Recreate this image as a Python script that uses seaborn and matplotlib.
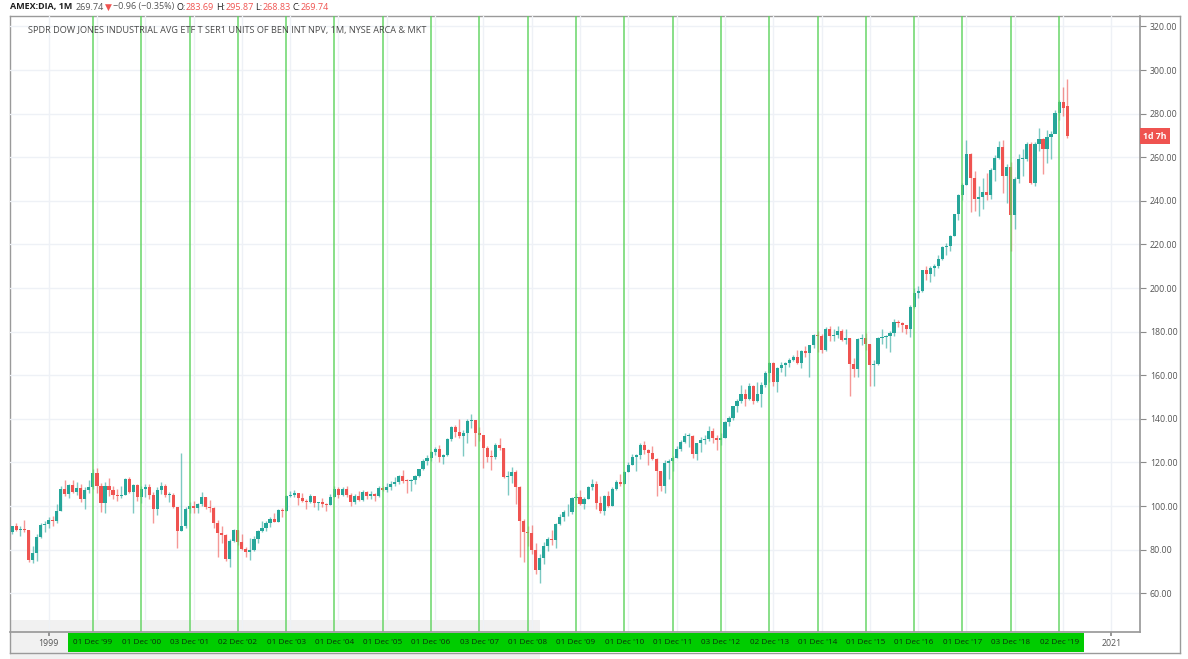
"""
DIA mensuel 1998-2020, style TradingView
"""

import matplotlib.pyplot as plt
from matplotlib.patches import Rectangle
import numpy as np
import pandas as pd
import seaborn as sns

# DONNEES (clotures, plus hauts, plus bas mensuels, jan 1998 -> fev 2020) ---------

close_98 = [79.1, 85.5, 88.0, 90.6, 89.0, 89.5, 88.8, 75.4, 78.4, 85.9, 91.2, 91.8]
close_99 = [93.6, 93.1, 97.9, 107.9, 105.6, 109.7, 106.6, 108.3, 103.4, 107.3, 108.8, 115.0]
close_00 = [109.4, 101.3, 109.2, 107.3, 105.2, 104.5, 105.2, 112.2, 106.5, 109.7, 104.2, 107.9]
close_01 = [108.9, 105.0, 98.8, 107.4, 109.1, 105.0, 105.2, 99.5, 88.5, 90.8, 98.5, 100.2]
close_02 = [99.2, 101.1, 104.0, 99.5, 99.3, 92.4, 87.4, 86.6, 75.9, 84.0, 89.0, 83.4]
close_03 = [80.5, 78.9, 79.9, 84.8, 88.5, 89.9, 92.3, 94.2, 92.8, 98.0, 97.8, 104.5]
close_04 = [104.9, 105.8, 103.6, 102.3, 101.9, 104.4, 101.4, 101.7, 100.8, 100.3, 104.3, 107.8]
close_05 = [104.9, 107.7, 105.0, 101.9, 104.7, 102.8, 106.4, 104.8, 105.7, 104.4, 108.1, 107.2]
close_06 = [108.7, 109.9, 111.1, 113.7, 111.7, 111.5, 111.9, 113.8, 116.8, 120.8, 122.2, 124.6]
close_07 = [126.2, 122.7, 123.5, 130.6, 136.3, 134.1, 132.1, 133.6, 139.0, 139.3, 133.7, 132.7]
close_08 = [126.5, 122.7, 122.6, 128.2, 126.4, 113.5, 113.8, 115.4, 108.5, 93.3, 88.3, 87.8]
close_09 = [80.0, 70.6, 76.1, 81.7, 85.0, 84.5, 91.7, 95.0, 97.1, 97.1, 103.5, 104.3]
close_10 = [100.7, 103.3, 108.6, 110.1, 101.4, 97.7, 104.7, 100.2, 107.9, 111.2, 110.1, 115.8]
close_11 = [118.9, 122.3, 123.2, 128.1, 125.7, 124.1, 121.4, 116.1, 109.1, 119.6, 120.5, 122.2]
close_12 = [126.3, 129.5, 132.1, 132.1, 123.9, 128.8, 130.1, 130.9, 134.4, 131.0, 130.3, 131.0]
close_13 = [138.6, 140.5, 145.8, 148.4, 151.2, 149.1, 155.0, 148.1, 151.3, 155.5, 160.9, 165.8]
close_14 = [157.0, 163.2, 164.6, 165.8, 167.2, 168.3, 165.6, 171.0, 170.4, 173.9, 178.3, 178.2]
close_15 = [171.7, 181.3, 177.8, 178.4, 180.1, 176.2, 176.9, 165.3, 162.9, 176.6, 177.2, 174.3]
close_16 = [164.7, 165.2, 176.9, 177.7, 177.9, 179.3, 184.3, 184.0, 183.1, 181.4, 191.2, 197.6]
close_17 = [198.6, 208.1, 206.6, 209.4, 210.1, 213.5, 218.9, 219.5, 224.1, 233.8, 242.7, 247.2]
close_18 = [261.5, 250.3, 241.0, 241.6, 244.2, 242.7, 254.2, 259.7, 264.6, 251.2, 255.4, 233.3]
close_19 = [250.0, 259.2, 259.3, 265.9, 248.2, 266.0, 268.6, 264.0, 269.2, 270.5, 280.5, 285.4]
close_20 = [282.6, 269.74]

high_98 = [80.0, 85.6, 89.0, 91.0, 92.1, 90.7, 93.4, 89.2, 81.5, 87.1, 92.2, 93.2]
high_99 = [95.0, 95.6, 100.8, 109.0, 112.0, 110.0, 112.0, 111.0, 110.0, 108.5, 112.0, 117.0]
high_00 = [117.5, 110.5, 110.9, 113.0, 109.4, 108.0, 109.0, 113.0, 113.1, 110.0, 110.0, 109.0]
high_01 = [110.0, 109.9, 106.5, 108.6, 111.0, 110.0, 106.5, 106.0, 99.5, 124.5, 99.5, 102.0]
high_02 = [102.2, 101.5, 106.4, 104.0, 102.6, 99.5, 93.8, 90.6, 87.0, 85.0, 89.5, 89.0]
high_03 = [87.0, 81.0, 85.2, 86.2, 88.8, 93.2, 93.2, 94.8, 96.9, 98.5, 99.0, 105.0]
high_04 = [107.0, 107.4, 106.0, 106.0, 103.2, 105.5, 104.5, 102.0, 103.5, 101.5, 105.7, 109.0]
high_05 = [108.5, 108.5, 109.4, 106.0, 105.5, 107.0, 107.2, 107.0, 106.7, 106.0, 109.3, 109.3]
high_06 = [110.5, 111.5, 113.5, 114.1, 116.7, 112.5, 112.5, 114.0, 117.2, 121.5, 123.5, 125.2]
high_07 = [127.0, 128.0, 124.0, 131.2, 136.7, 137.0, 140.0, 135.0, 139.9, 142.0, 139.0, 136.2]
high_08 = [132.8, 127.7, 125.5, 129.0, 131.0, 126.5, 116.0, 117.8, 116.5, 109.0, 94.0, 91.0]
high_09 = [91.4, 83.0, 78.0, 83.5, 86.0, 88.8, 92.0, 96.3, 98.3, 100.9, 104.1, 106.0]
high_10 = [107.3, 104.1, 109.3, 112.6, 111.5, 104.5, 105.0, 106.9, 108.5, 112.0, 114.5, 116.0]
high_11 = [120.0, 124.0, 123.8, 129.0, 129.8, 126.1, 127.5, 122.0, 116.2, 121.0, 121.4, 123.1]
high_12 = [127.6, 130.5, 133.3, 133.4, 132.8, 129.0, 131.5, 132.8, 136.5, 136.0, 132.5, 133.7]
high_13 = [139.0, 141.5, 146.0, 149.0, 155.5, 153.7, 156.6, 155.4, 157.1, 156.8, 161.8, 165.9]
high_14 = [165.9, 164.0, 166.0, 166.0, 168.0, 169.5, 171.5, 171.5, 173.5, 174.0, 178.7, 180.5]
high_15 = [179.0, 182.0, 182.4, 181.4, 182.7, 181.3, 181.2, 177.0, 167.8, 177.0, 179.0, 179.3]
high_16 = [174.5, 166.8, 177.5, 181.0, 178.3, 180.5, 185.9, 185.3, 184.5, 183.2, 192.0, 199.8]
high_17 = [201.0, 208.5, 210.1, 210.0, 211.1, 215.0, 219.4, 220.5, 224.5, 234.0, 243.0, 248.2]
high_18 = [267.8, 262.0, 253.6, 247.0, 250.4, 253.0, 255.0, 261.0, 267.5, 268.0, 257.0, 258.0]
high_19 = [251.0, 261.5, 264.0, 267.0, 267.1, 267.0, 273.4, 269.0, 272.5, 272.0, 281.6, 286.4]
high_20 = [292.0, 295.87]

low_98 = [75.8, 78.7, 84.4, 87.0, 88.4, 86.3, 87.9, 74.5, 74.0, 74.7, 85.5, 88.2]
low_99 = [89.9, 90.6, 92.4, 97.7, 104.6, 103.9, 106.1, 104.9, 102.0, 98.8, 105.9, 107.7]
low_00 = [106.0, 97.3, 97.0, 104.5, 103.0, 102.5, 103.5, 105.0, 106.0, 97.0, 102.4, 101.2]
low_01 = [104.0, 103.0, 92.0, 96.0, 105.5, 104.0, 101.7, 99.0, 80.6, 88.5, 90.0, 97.0]
low_02 = [97.0, 96.8, 100.2, 98.7, 97.2, 90.0, 76.8, 83.2, 75.0, 72.0, 83.5, 82.0]
low_03 = [79.9, 76.6, 75.2, 79.4, 83.0, 88.0, 88.4, 90.4, 92.8, 92.8, 95.0, 97.8]
low_04 = [104.0, 104.0, 100.5, 101.8, 98.6, 101.5, 99.6, 98.1, 99.6, 97.5, 100.3, 104.3]
low_05 = [103.7, 104.6, 104.0, 100.1, 101.0, 102.5, 102.5, 103.4, 103.1, 102.2, 104.0, 106.8]
low_06 = [106.5, 107.5, 109.1, 110.0, 110.4, 106.0, 106.8, 110.0, 113.5, 116.7, 119.0, 120.5]
low_07 = [123.4, 120.0, 119.5, 123.0, 129.9, 131.5, 131.0, 123.0, 128.7, 136.0, 127.4, 129.8]
low_08 = [117.5, 120.0, 116.5, 121.6, 125.5, 113.0, 105.0, 110.5, 101.0, 76.5, 74.5, 81.5]
low_09 = [78.0, 69.0, 64.7, 73.5, 79.5, 82.0, 80.9, 91.5, 93.0, 95.6, 96.5, 102.6]
low_10 = [100.3, 98.5, 103.2, 107.2, 98.5, 96.8, 95.8, 99.7, 99.9, 107.3, 109.3, 110.0]
low_11 = [115.5, 118.8, 116.0, 121.5, 123.8, 118.7, 121.0, 104.5, 107.1, 106.1, 112.5, 116.1]
low_12 = [122.0, 125.2, 129.0, 127.0, 122.0, 121.0, 125.0, 128.4, 129.8, 128.9, 125.5, 127.9]
low_13 = [131.0, 136.8, 139.5, 143.2, 147.2, 146.0, 148.8, 147.0, 147.5, 145.4, 154.5, 157.0]
low_14 = [155.1, 152.1, 161.5, 159.7, 163.6, 166.5, 165.3, 163.3, 168.5, 159.2, 172.4, 170.7]
low_15 = [170.0, 171.0, 175.8, 175.7, 177.0, 175.5, 174.4, 150.6, 159.0, 159.0, 174.0, 171.5]
low_16 = [155.0, 155.0, 164.8, 174.5, 172.6, 170.7, 178.2, 182.0, 180.0, 178.7, 177.6, 191.0]
low_17 = [195.5, 198.0, 203.5, 202.8, 205.5, 209.0, 213.0, 215.0, 217.0, 224.0, 231.0, 240.2]
low_18 = [247.2, 235.0, 235.4, 233.0, 236.4, 240.5, 240.7, 249.3, 259.0, 243.6, 238.9, 217.1]
low_19 = [227.0, 248.0, 251.5, 258.5, 247.5, 247.0, 263.0, 252.4, 257.4, 259.2, 271.5, 276.9]
low_20 = [279.0, 268.83]

first_open = 79.1      # ouverture jan 1998
last_open = 283.69     # ouverture fev 2020 (bandeau)

dec_labels = ["01 Dec '99", "01 Dec '00", "03 Dec '01", "02 Dec '02", "01 Dec '03",
              "01 Dec '04", "01 Dec '05", "01 Dec '06", "03 Dec '07", "01 Dec '08",
              "01 Dec '09", "01 Dec '10", "01 Dec '11", "03 Dec '12", "02 Dec '13",
              "01 Dec '14", "01 Dec '15", "01 Dec '16", "01 Dec '17", "03 Dec '18",
              "02 Dec '19"]
dec_years = list(range(1999, 2020))
price_ticks = list(range(60, 321, 20))

# MISE EN FORME DES DONNEES ------------------------------------------------

closes = sum([close_98, close_99, close_00, close_01, close_02, close_03, close_04,
              close_05, close_06, close_07, close_08, close_09, close_10, close_11,
              close_12, close_13, close_14, close_15, close_16, close_17, close_18,
              close_19, close_20], [])
highs = sum([high_98, high_99, high_00, high_01, high_02, high_03, high_04, high_05,
             high_06, high_07, high_08, high_09, high_10, high_11, high_12, high_13,
             high_14, high_15, high_16, high_17, high_18, high_19, high_20], [])
lows = sum([low_98, low_99, low_00, low_01, low_02, low_03, low_04, low_05, low_06,
            low_07, low_08, low_09, low_10, low_11, low_12, low_13, low_14, low_15,
            low_16, low_17, low_18, low_19, low_20], [])

df = pd.DataFrame({"close": closes, "high": highs, "low": lows})
df["month"] = np.arange(len(df))  # 0 = janvier 1998
df["open"] = [first_open] + closes[:-1]
df.loc[df.index[-1], "open"] = last_open
df["up"] = df["close"] >= df["open"]

UP, DOWN = "#26a69a", "#ef5350"

# FIGURE ----------------------------------------------------------------------

sns.set_theme(style="white")
plt.rcParams["font.family"] = ["Open Sans", "DejaVu Sans"]

W, H = 1188, 659
fig = plt.figure(figsize=(W / 100, H / 100), dpi=100)


def box(x0, y0, x1, y1):
    return [x0 / W, 1 - y1 / H, (x1 - x0) / W, (y1 - y0) / H]


# ombre grise en bas a gauche (sous les axes)
fig.patches.append(Rectangle((10 / W, 0), 530 / W, 39 / H, transform=fig.transFigure,
                             color="#e4e4e4", alpha=0.5, zorder=-1, lw=0))

frame = fig.add_axes(box(10, 16, 1180, 653))
frame.patch.set_alpha(0)
frame.set_xticks([])
frame.set_yticks([])
for s in frame.spines.values():
    s.set_color("#9a9a9a")
    s.set_linewidth(1)

ax = fig.add_axes(box(10, 16, 1140, 632))
ax_time = fig.add_axes(box(10, 632, 1140, 653), sharex=ax)
ax.patch.set_alpha(0)
ax_time.patch.set_alpha(0)

# grille
for p in price_ticks:
    ax.axhline(p, color="#eef1f6", lw=1, zorder=0)
for yr in range(1999, 2022):
    ax.axvline((yr - 1998) * 12, color="#eef1f6", lw=1, zorder=0)

# bougies
body_bottom = df[["open", "close"]].min(axis=1)
body_height = (df["close"] - df["open"]).abs().clip(lower=0.3)
colors = np.where(df["up"], UP, DOWN)
ax.vlines(df["month"], df["low"], df["high"], colors=colors, lw=1, alpha=0.6, zorder=2)
ax.bar(df["month"], body_height, bottom=body_bottom, width=0.78, color=colors,
       edgecolor="none", zorder=3)

# lignes vertes de decembre
dec_pos = [(y - 1998) * 12 + 11 for y in dec_years]
for x in dec_pos:
    ax.axvline(x, color="#5fd35f", lw=1.3, alpha=0.8, zorder=4)

ax.set_xlim(2.4, 283.1)
ax.set_ylim(42.2, 324.8)
ax.set_xticks([])
ax.yaxis.tick_right()
ax.set_yticks(price_ticks)
ax.set_yticklabels([f"{p:.2f}" for p in price_ticks])
ax.tick_params(axis="y", right=True, length=4, width=0.8, color="#8a8a8a",
               labelsize=6.3, labelcolor="#555555", pad=3)
for s in ax.spines.values():
    s.set_visible(False)
ax.spines["right"].set_visible(True)
ax.spines["right"].set_color("#9a9a9a")

# etiquette compte a rebours
ax.text(1.003, 269.74, "1d 7h", transform=ax.get_yaxis_transform(), ha="left",
        va="center", fontsize=6.3, color="white", fontweight="bold",
        bbox=dict(boxstyle="square,pad=0.35", fc="#ef5350", ec="none"))

# axe du temps
ax_time.set_ylim(0, 1)
ax_time.set_yticks([])
ax_time.set_xticks([12, 276])
ax_time.set_xticklabels([])
ax_time.tick_params(axis="x", bottom=False, top=True, length=3, color="#8a8a8a",
                    direction="in")
for s in ax_time.spines.values():
    s.set_visible(False)
ax_time.spines["top"].set_visible(True)
ax_time.spines["top"].set_color("#9a9a9a")
ax_time.axvspan(dec_pos[0] - 6.3, dec_pos[-1] + 6.3, ymin=0.06, ymax=0.94,
                color="#00cc00", lw=0)
for x, lab in zip(dec_pos, dec_labels):
    ax_time.text(x, 0.5, lab, ha="center", va="center", fontsize=5.9, color="#0c300c")
ax_time.text(12, 0.45, "1999", ha="center", va="center", fontsize=6.3, color="#555555")
ax_time.text(276, 0.45, "2021", ha="center", va="center", fontsize=6.3, color="#555555")

# bandeau du haut, morceaux places a la suite
renderer = fig.canvas.get_renderer()
header = [("AMEX:DIA, 1M", "#1e1e1e", "bold", 3), ("269.74", "#555555", "normal", 1),
          ("\u25bc", DOWN, "normal", 2), ("\u22120.96 (\u22120.35%)", "#555555", "normal", 2),
          ("O:", "#1e1e1e", "normal", 0), ("283.69", DOWN, "normal", 2),
          ("H:", "#1e1e1e", "normal", 0), ("295.87", DOWN, "normal", 2),
          ("L:", "#1e1e1e", "normal", 0), ("268.83", DOWN, "normal", 2),
          ("C:", "#1e1e1e", "normal", 0), ("269.74", DOWN, "normal", 0)]
x = 10
for t, c, w, gap in header:
    txt = fig.text(x / W, 1 - 7 / H, t, fontsize=6.5, color=c, fontweight=w, va="center")
    x = txt.get_window_extent(renderer).x1 + gap

ax.text(18 / 1130, 1 - 14 / 616,
        "SPDR DOW JONES INDUSTRIAL AVG ETF T SER1 UNITS OF BEN INT NPV, 1M, NYSE ARCA & MKT",
        transform=ax.transAxes, fontsize=6.55, color="#4a4a4a", va="center", zorder=6)

fig.savefig("out.png", dpi=100)
